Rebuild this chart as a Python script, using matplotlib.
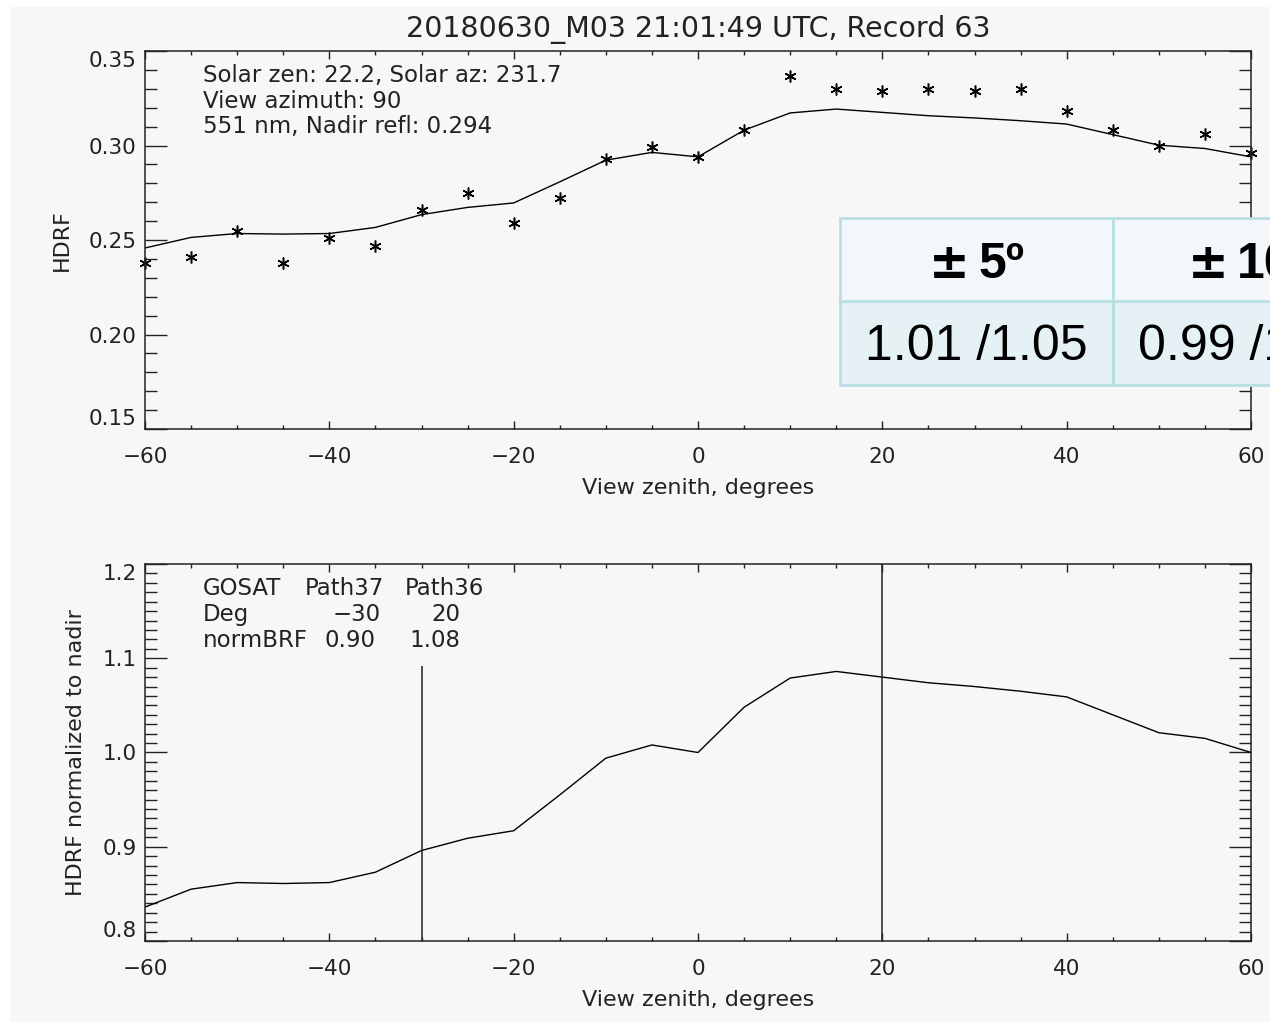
import matplotlib
matplotlib.use('Agg')
import matplotlib.pyplot as plt
from matplotlib.patches import Rectangle
from matplotlib.ticker import MultipleLocator, FormatStrFormatter
from matplotlib.offsetbox import TextArea, HPacker, AnnotationBbox

# view zenith angles of the multi-angle record
view_zen = [-60, -55, -50, -45, -40, -35, -30, -25, -20, -15, -10, -5, 0,
            5, 10, 15, 20, 25, 30, 35, 40, 45, 50, 55, 60]

# measured HDRF at 551 nm
hdrf_obs = [0.238, 0.241, 0.255, 0.238, 0.251, 0.247, 0.266, 0.275, 0.259,
            0.272, 0.293, 0.299, 0.294, 0.308, 0.337, 0.330, 0.329, 0.330,
            0.329, 0.330, 0.318, 0.308, 0.300, 0.306, 0.296]

# smoothed HDRF normalized to nadir
hdrf_norm = [0.836, 0.855, 0.862, 0.861, 0.862, 0.873, 0.896, 0.909, 0.917,
             0.955, 0.994, 1.008, 1.000, 1.048, 1.079, 1.086, 1.080, 1.074,
             1.070, 1.065, 1.059, 1.040, 1.021, 1.015, 1.000]

solar_zen = 22.2
solar_az = 231.7
view_az = 90
wavelength = 551
nadir_refl = 0.294

# GOSAT paths and their view angles
gosat_paths = ['Path37', 'Path36']
gosat_deg = [-30, 20]
gosat_line_top = [1.092, 1.2]

# comparison table (ratios)
table_headers = ['5\u00ba', '10\u00ba']
table_values = ['1.01 /1.05', '0.99 /1.06']

W, H = 1270, 1023
fig = plt.figure(figsize=(W / 100, H / 100), dpi=100, facecolor='white')
fig.add_artist(Rectangle((10 / W, 1.5 / H), 1 - 10 / W, (1016 - 1.5) / H,
                         transform=fig.transFigure, facecolor='#f7f7f7',
                         edgecolor='none', zorder=-10))

ink = '#222222'
plt.rcParams['font.family'] = ['DejaVu Sans']


def style_axes(ax, ymajor, yminor, yfmt):
    ax.set_facecolor('none')
    ax.set_xlim(-60, 60)
    ax.xaxis.set_major_locator(MultipleLocator(20))
    ax.xaxis.set_minor_locator(MultipleLocator(5))
    ax.yaxis.set_major_locator(MultipleLocator(ymajor))
    ax.yaxis.set_minor_locator(MultipleLocator(yminor))
    ax.yaxis.set_major_formatter(FormatStrFormatter(yfmt))
    ax.tick_params(which='both', direction='in', top=True, right=True,
                   colors=ink, width=1.0, labelsize=15.5)
    ax.tick_params(axis='y', which='major', length=16, pad=6)
    ax.tick_params(axis='y', which='minor', length=8.6)
    ax.tick_params(axis='x', which='major', length=5.8, pad=13)
    ax.tick_params(axis='x', which='minor', length=2.9)
    for s in ax.spines.values():
        s.set_color(ink)
        s.set_linewidth(1.1)
    ax.set_xlabel('View zenith, degrees', fontsize=16, color=ink, labelpad=8)


# top panel: measured HDRF and fitted curve
ax1 = fig.add_axes([145 / W, 1 - 429 / H, 1106 / W, 378 / H])
ax1.set_ylim(0.15, 0.35)
style_axes(ax1, 0.05, 0.01, '%.2f')
fit = [v * nadir_refl for v in hdrf_norm]
ax1.plot(view_zen, fit, color='black', lw=1.0)
ax1.plot(view_zen, hdrf_obs, ls='none', marker=(6, 2, 0), ms=8.5,
         mew=1.1, color='black', clip_on=False)
ax1.set_ylabel('HDRF', fontsize=16, color=ink, labelpad=12)
ax1.set_title('20180630_M03 21:01:49 UTC, Record 63', fontsize=20.5,
              color=ink, pad=10)
info = [f'Solar zen: {solar_zen}, Solar az: {solar_az}',
        f'View azimuth: {view_az}',
        f'{wavelength} nm, Nadir refl: {nadir_refl:.3f}']
for i, line in enumerate(info):
    ax1.text(0.052, 0.934 - i * 0.067, line, transform=ax1.transAxes,
             fontsize=16.5, color=ink, va='center', ha='left')

# bottom panel: normalized HDRF with GOSAT view angles
ax2 = fig.add_axes([145 / W, 1 - 941 / H, 1106 / W, 377 / H])
ax2.set_ylim(0.8, 1.2)
style_axes(ax2, 0.1, 0.01, '%.1f')
ax2.plot(view_zen, hdrf_norm, color='black', lw=1.0)
ax2.vlines(gosat_deg, 0.8, gosat_line_top, color=ink, lw=1.1)
ax2.set_ylabel('HDRF normalized to nadir', fontsize=16, color=ink,
               labelpad=12)

gosat_brf = [hdrf_norm[view_zen.index(d)] for d in gosat_deg]
rows_y = [0.934, 0.867, 0.798]
for i, name in enumerate(['GOSAT', 'Deg', 'normBRF']):
    ax2.text(0.052, rows_y[i], name, transform=ax2.transAxes,
             fontsize=16.5, color=ink, va='center')
path_x = [0.1804, 0.2704]
deg_x = [0.1912, 0.2722]
brf_x = [0.1854, 0.2618]
for k in range(len(gosat_paths)):
    ax2.text(path_x[k], rows_y[0], gosat_paths[k], transform=ax2.transAxes,
             fontsize=16.5, color=ink, va='center', ha='center')
    ax2.text(deg_x[k], rows_y[1], f'{gosat_deg[k]:d}'.replace('-', '\u2212'),
             transform=ax2.transAxes, fontsize=16.5, color=ink,
             va='center', ha='center')
    ax2.text(brf_x[k], rows_y[2], f'{gosat_brf[k]:.2f}',
             transform=ax2.transAxes, fontsize=16.5, color=ink,
             va='center', ha='center')

# keep the end labels of the y axes inside the frame
fig.canvas.draw()
for ax in (ax1, ax2):
    lo, hi = ax.get_ylim()
    for tick in ax.yaxis.get_major_ticks():
        if abs(tick.get_loc() - hi) < 1e-6:
            tick.label1.set_va('top')
        elif abs(tick.get_loc() - lo) < 1e-6:
            tick.label1.set_va('bottom')

# overlaid ratio table
cell_w, cell_h = 273, 83.5
x0, y0 = 840, 218
border = '#b9dfe4'
fills = ['#f1f7fa', '#e5f1f4']
for r in range(2):
    for c in range(len(table_headers)):
        left = x0 + c * cell_w
        top = y0 + r * cell_h
        fig.add_artist(Rectangle((left / W, 1 - (top + cell_h) / H),
                                 cell_w / W, cell_h / H,
                                 transform=fig.transFigure,
                                 facecolor=fills[r], edgecolor=border,
                                 linewidth=2.0, zorder=20))
for c in range(len(table_headers)):
    cx = (x0 + (c + 0.5) * cell_w) / W
    sign = TextArea('\u00b1', textprops=dict(family='DejaVu Sans',
                                             fontsize=35, fontweight='bold',
                                             color='black'))
    num = TextArea(table_headers[c], textprops=dict(family='Liberation Sans',
                                                    fontsize=36,
                                                    fontweight='bold',
                                                    color='black'))
    head = HPacker(children=[sign, num], align='baseline', pad=0, sep=6)
    ab = AnnotationBbox(head, (cx, 1 - (y0 + 0.5 * cell_h + 4) / H),
                        xycoords='figure fraction', frameon=False,
                        box_alignment=(0.5, 0.5), zorder=21)
    fig.add_artist(ab)
    fig.text(cx, 1 - (y0 + 1.5 * cell_h + 4) / H, table_values[c],
             family='Liberation Sans', fontsize=36,
             ha='center', va='center', color='black', zorder=21)

fig.savefig('out.png', dpi=100, facecolor=fig.get_facecolor())
